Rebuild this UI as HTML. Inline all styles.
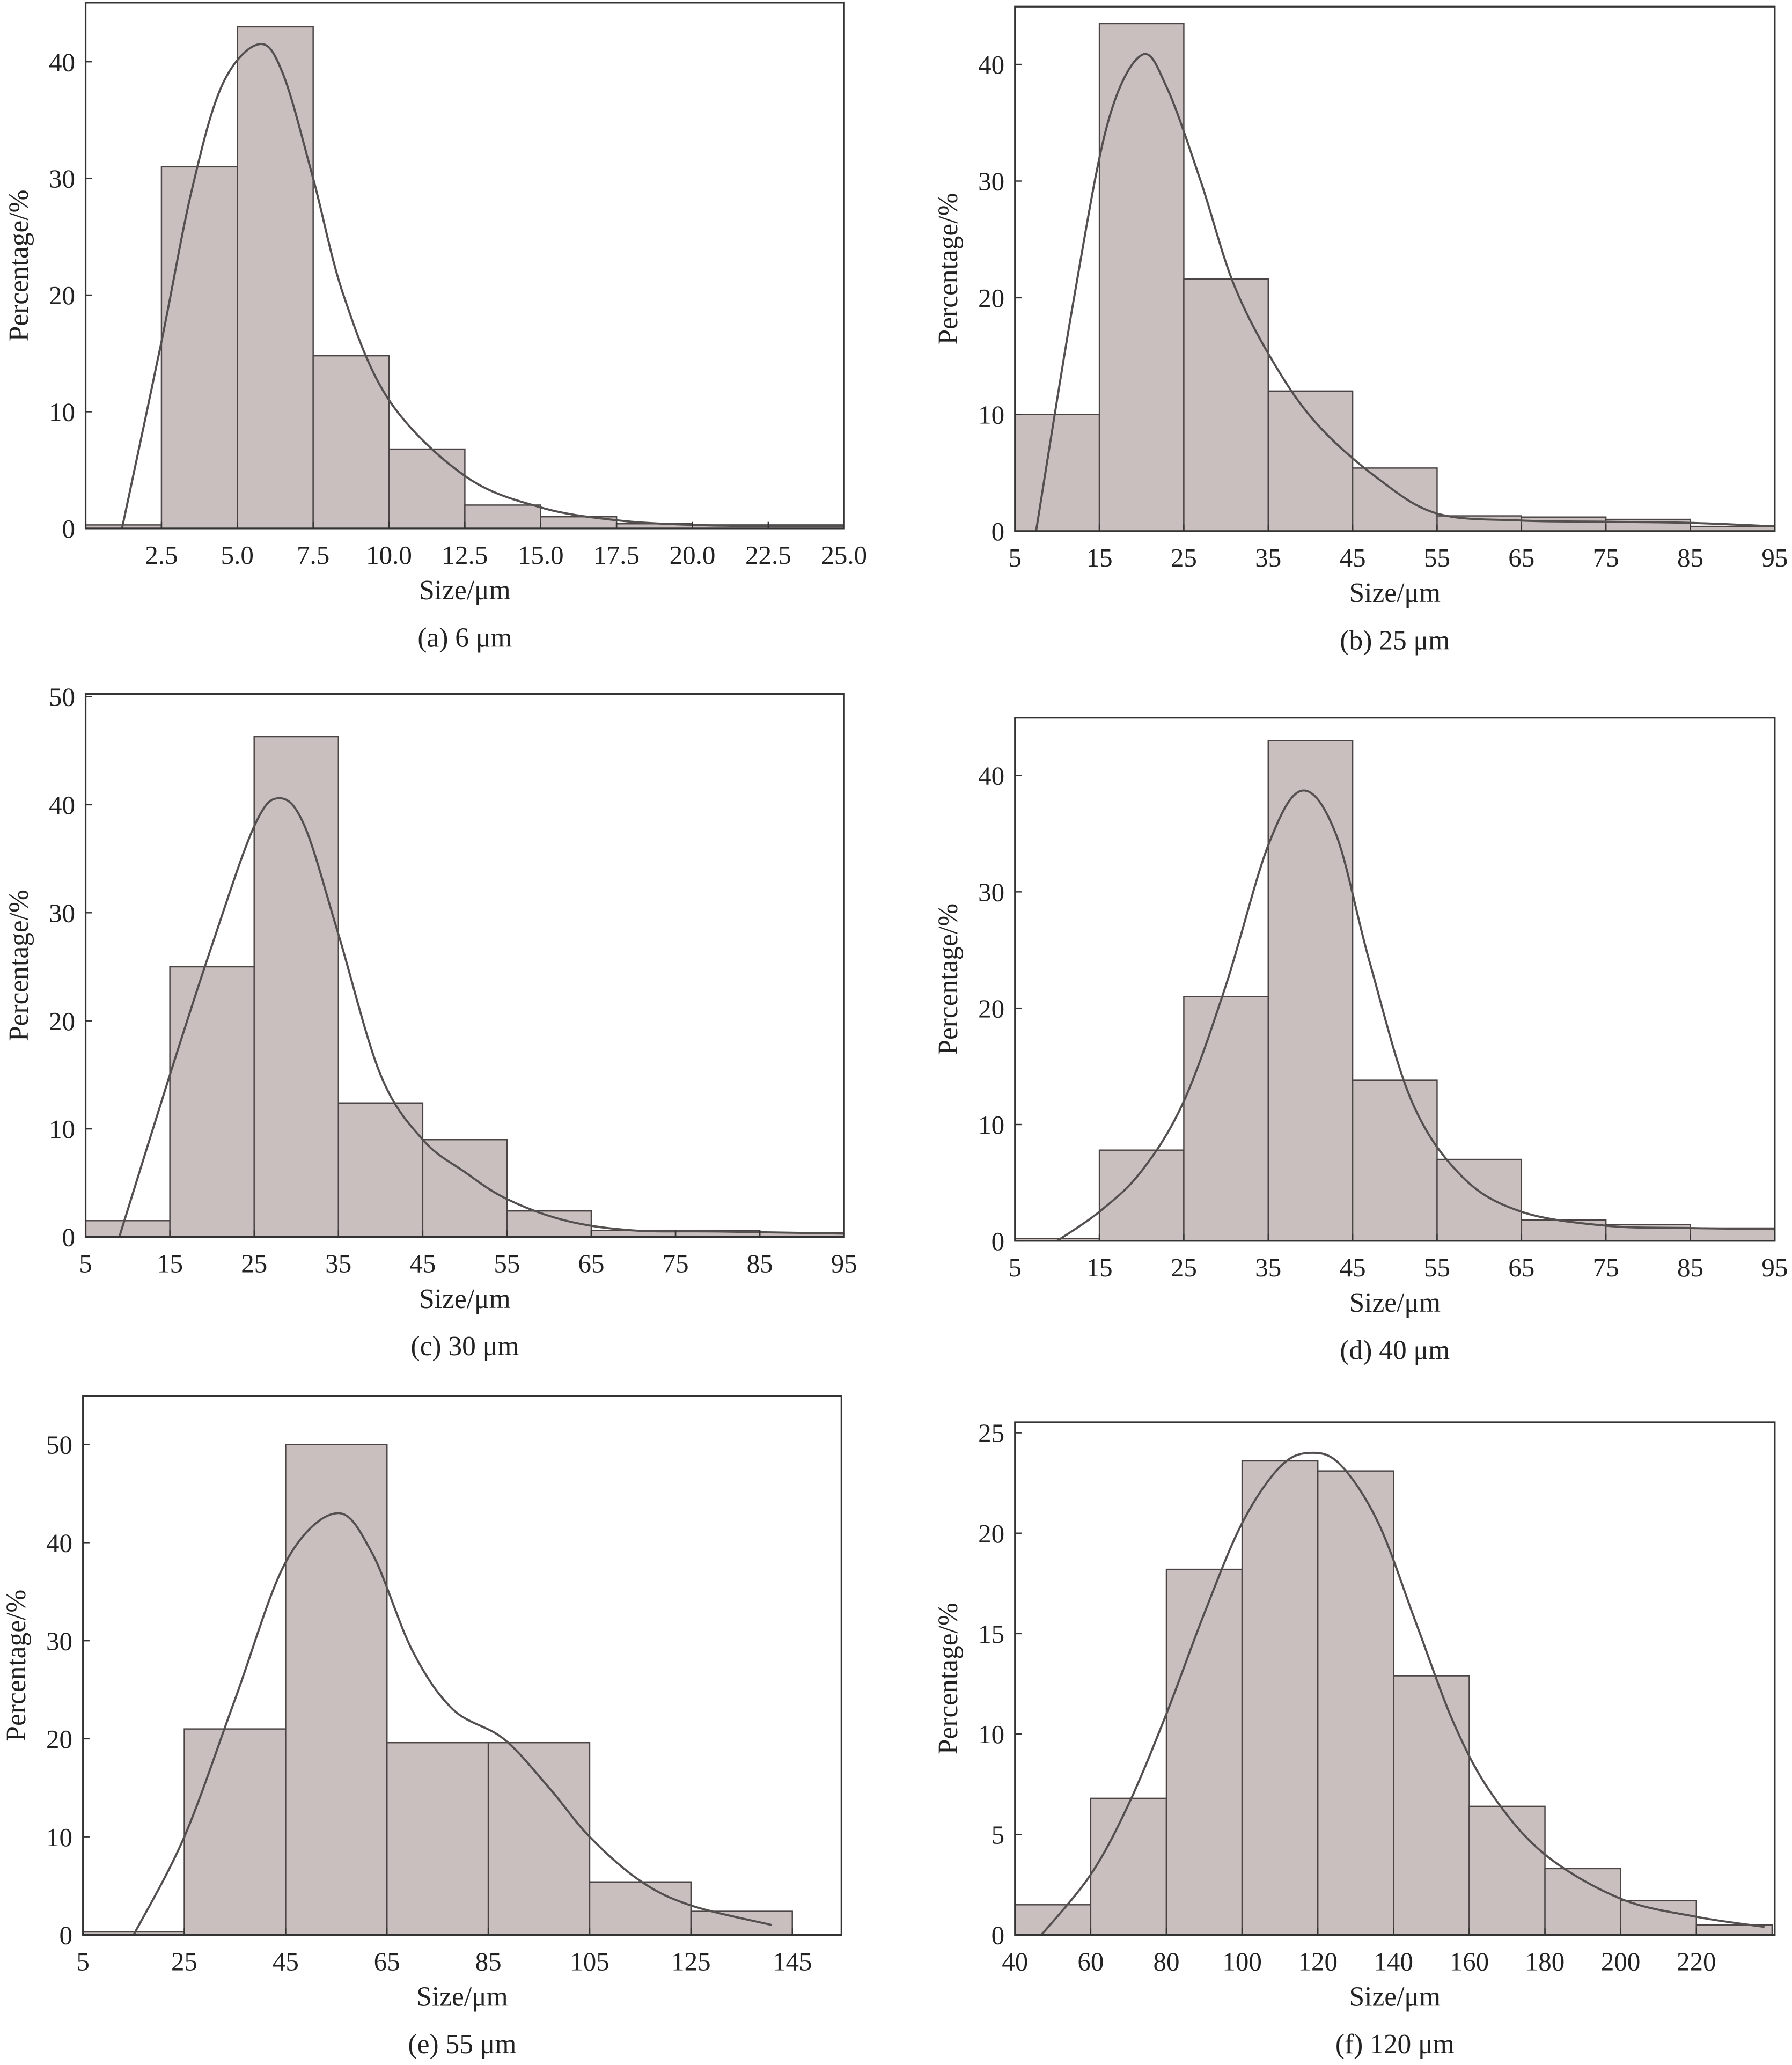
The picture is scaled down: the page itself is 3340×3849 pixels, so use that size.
<!DOCTYPE html>
<html><head><meta charset="utf-8">
<style>
html,body{margin:0;padding:0;background:#fff;}
svg{display:block;}
text{font-family:"Liberation Serif",serif;fill:#222;}
</style></head>
<body>
<svg id="fig" width="3340" height="3849" viewBox="0 0 1363 1571" xmlns="http://www.w3.org/2000/svg"></svg>
<script>
// ---- data (bin edges, bar heights, fitted-curve points) ----
const aEdges=[0,2.5,5,7.5,10,12.5,15,17.5,20,22.5,25];
const aBars=[0.3,31,43,14.8,6.8,2,1,0.4,0.3,0.3];
const aCurveX=[1.2,2.5,3.5,4.5,5.7,6.5,7.5,8.5,10,12.5,15,17.5,20,22.5,25];
const aCurveY=[0,16,29,38,41.5,39,30,20,11,4.5,1.8,0.7,0.3,0.2,0.2];
const aTicks=["2.5","5.0","7.5","10.0","12.5","15.0","17.5","20.0","22.5","25.0"];

const bEdges=[5,15,25,35,45,55,65,75,85,95];
const bBars=[10,43.5,21.6,12,5.4,1.3,1.2,1.0,0.4];
const bCurveX=[7.5,12,16,20,23,27,31,36,41,48,55,65,75,85,95];
const bCurveY=[0,20,35,40.8,38,30,21,14,9,4.5,1.5,0.9,0.8,0.7,0.4];
const bTicks=["5","15","25","35","45","55","65","75","85","95"];

const cEdges=[5,15,25,35,45,55,65,75,85,95];
const cBars=[1.5,25,46.3,12.4,9,2.4,0.6,0.6,0.4];
const cCurveX=[9,15,20,25,28,31,35,40,45,50,55,62,70,80,95];
const cCurveY=[0,15,27,38,40.6,38,28,15,9,6,3.5,1.5,0.6,0.5,0.3];
const cTicks=["5","15","25","35","45","55","65","75","85","95"];

const dEdges=[5,15,25,35,45,55,65,75,85,95];
const dBars=[0.2,7.8,21,43,13.8,7,1.8,1.4,1.1];
const dCurveX=[10,15,20,25,30,35,39,43,47,52,58,65,75,85,95];
const dCurveY=[0,2.5,6,12,22,34,38.7,35,24,12,5.5,2.5,1.3,1.1,1.0];
const dTicks=["5","15","25","35","45","55","65","75","85","95"];

const eEdges=[5,25,45,65,85,105,125,145];
const eBars=[0.3,21,50,19.6,19.6,5.4,2.4];
const eCurveX=[15,25,35,45,55,62,70,78,88,97,105,115,125,141];
const eCurveY=[0,10,24,38,43,39,29,23,20,15,10,5.5,3,1];
const eTicks=["5","25","45","65","85","105","125","145"];

const fEdges=[40,60,80,100,120,140,160,180,200,220,240];
const fBars=[1.5,6.8,18.2,23.6,23.1,12.9,6.4,3.3,1.7,0.5];
const fCurveX=[47,60,70,80,90,100,110,118,126,136,146,156,166,180,200,220,238];
const fCurveY=[0,3,6.5,11,16,20.5,23.3,24,23.4,20.5,15.5,10.5,7,4,1.8,0.9,0.4];
const fTicks=["40","60","80","100","120","140","160","180","200","220"];

const yTicksA=[0,10,20,30,40];
const yTicksC=[0,10,20,30,40,50];
const yTicksF=[0,5,10,15,20,25];

const panels=[
 {id:'a',cap:'(a) 6 μm',x0:65,x1:642,yt:2,yb:402,xd:[0,25],ymax:402/8.875*0+45.07,y40:47,yv:40,edges:aEdges,bars:aBars,cx:aCurveX,cy:aCurveY,xt:aTicks,yt2:yTicksA,ylab:[0,10,20,30,40]},
 {id:'b',cap:'(b) 25 μm',x0:772,x1:1350,yt:5,yb:404,xd:[5,95],y40:49,yv:40,edges:bEdges,bars:bBars,cx:bCurveX,cy:bCurveY,xt:bTicks,yt2:yTicksA},
 {id:'c',cap:'(c) 30 μm',x0:65,x1:642,yt:528,yb:941,xd:[5,95],y40:530,yv:50,edges:cEdges,bars:cBars,cx:cCurveX,cy:cCurveY,xt:cTicks,yt2:yTicksC},
 {id:'d',cap:'(d) 40 μm',x0:772,x1:1350,yt:546,yb:944,xd:[5,95],y40:590,yv:40,edges:dEdges,bars:dBars,cx:dCurveX,cy:dCurveY,xt:dTicks,yt2:yTicksA},
 {id:'e',cap:'(e) 55 μm',x0:63,x1:640,yt:1062,yb:1472,xd:[5,154.7],y40:1099,yv:50,edges:eEdges,bars:eBars,cx:eCurveX,cy:eCurveY,xt:eTicks,yt2:yTicksC},
 {id:'f',cap:'(f) 120 μm',x0:772,x1:1350,yt:1082,yb:1472,xd:[40,240.7],y40:1090,yv:25,edges:fEdges,bars:fBars,cx:fCurveX,cy:fCurveY,xt:fTicks,yt2:yTicksF}
];
const NS='http://www.w3.org/2000/svg';
const svg=document.getElementById('fig');
function mk(tag,attrs,parent){const e=document.createElementNS(NS,tag);for(const k in attrs)e.setAttribute(k,attrs[k]);parent.appendChild(e);return e;}

panels.forEach(p=>{
 const g=mk('g',{},svg);
 
 
 const xs=v=>p.x0+(v-p.xd[0])/(p.xd[1]-p.xd[0])*(p.x1-p.x0);
 const ys=v=>p.yb-(v/p.yv)*(p.yb-p.y40);
 // bars
 p.bars.forEach((v,i)=>{
  const xa=xs(p.edges[i]),xb=xs(p.edges[i+1]);
  const r=mk('rect',{x:xa,y:ys(v),width:xb-xa,height:p.yb-ys(v),fill:'#c9bfbf',stroke:'#4a4444','stroke-width':1},g);
  
  
 });
 // curve (catmull-rom)
 const pts=p.cx.map((x,i)=>[xs(x),ys(p.cy[i])]);
 let d='M'+pts[0][0]+','+pts[0][1];
 for(let i=0;i<pts.length-1;i++){
  const p0=pts[Math.max(0,i-1)],p1=pts[i],p2=pts[i+1],p3=pts[Math.min(pts.length-1,i+2)];
  const c1=[p1[0]+(p2[0]-p0[0])/6,p1[1]+(p2[1]-p0[1])/6];
  const c2=[p2[0]-(p3[0]-p1[0])/6,p2[1]-(p3[1]-p1[1])/6];
  d+=` C${c1[0]},${c1[1]} ${c2[0]},${c2[1]} ${p2[0]},${p2[1]}`;
 }
 const c=mk('path',{d:d,fill:'none',stroke:'#555050','stroke-width':1.6},g);
 
 
 // frame
 const fr=mk('rect',{x:p.x0,y:p.yt,width:p.x1-p.x0,height:p.yb-p.yt,fill:'none',stroke:'#333','stroke-width':1.3},g);
 
 
 // x ticks
 p.xt.forEach(t=>{
  const x=xs(parseFloat(t));
  mk('line',{x1:x,x2:x,y1:p.yb,y2:p.yb-5,stroke:'#333','stroke-width':1},g);
  const tx=mk('text',{x:x,y:p.yb+27,'text-anchor':'middle','font-size':20},g);
  tx.textContent=t;
  
  
 });
 // y ticks
 p.yt2.forEach(t=>{
  const y=ys(t);
  mk('line',{x1:p.x0,x2:p.x0+5,y1:y,y2:y,stroke:'#333','stroke-width':1},g);
  const tx=mk('text',{x:p.x0-8,y:y+7,'text-anchor':'end','font-size':20},g);
  tx.textContent=t;
  
  
 });
 const cx=(p.x0+p.x1)/2;
 const xl=mk('text',{x:cx,y:p.yb+54,'text-anchor':'middle','font-size':21},g);
 xl.textContent='Size/μm';
 
 
 const cap=mk('text',{x:cx,y:p.yb+90,'text-anchor':'middle','font-size':21},g);
 cap.textContent=p.cap;
 
 
 const ym=(p.yt+p.yb)/2, yx=p.x0-44;
 const yl=mk('text',{x:yx,y:ym,'text-anchor':'middle','font-size':21,transform:`rotate(-90 ${yx} ${ym})`},g);
 yl.textContent='Percentage/%';
 
 
});
</script>
</body></html>
